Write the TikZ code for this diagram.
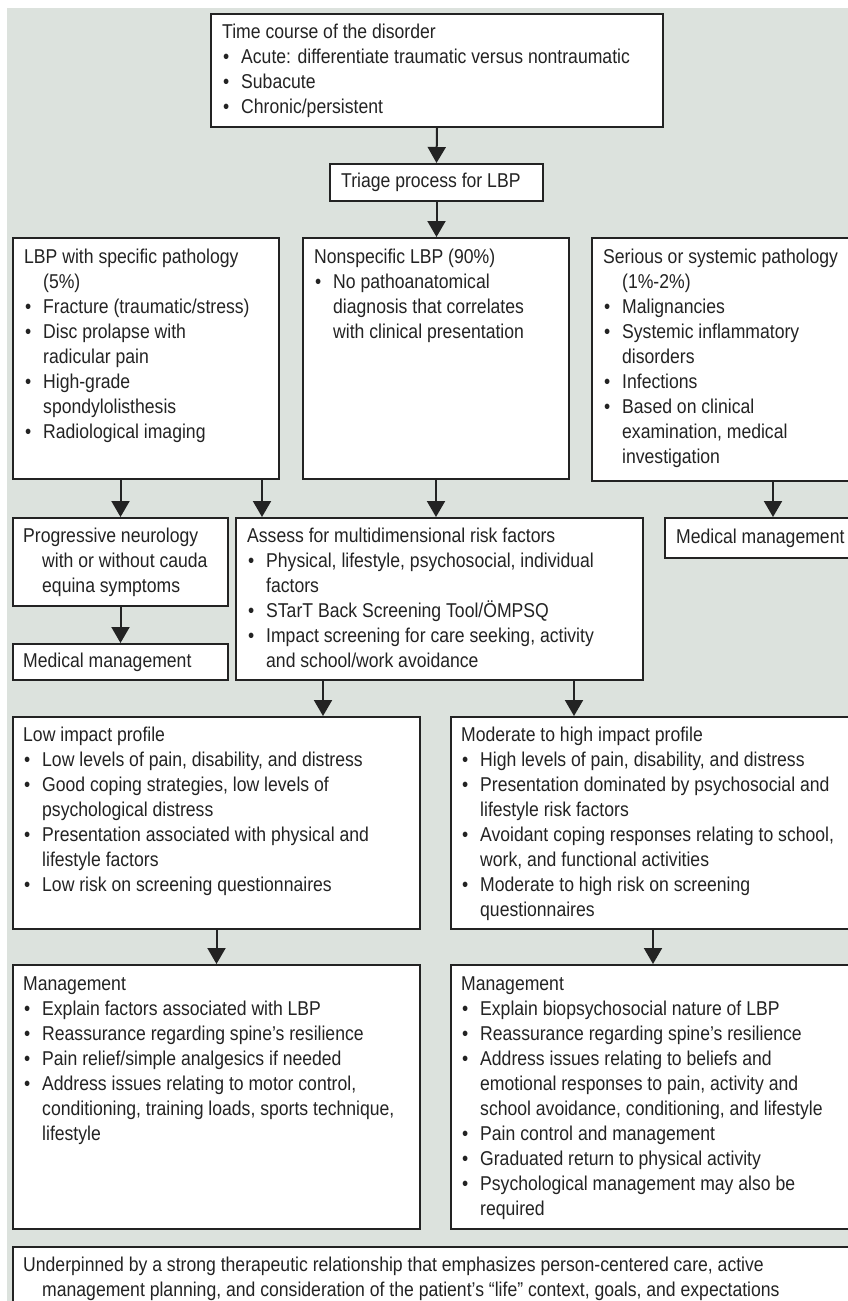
\documentclass[tikz,border=0pt]{standalone}
\usepackage{fontspec}
\setmainfont{Liberation Sans}[FakeStretch=0.88]
\usetikzlibrary{arrows.meta}
\definecolor{bgc}{RGB}{220,226,221}
\definecolor{lnc}{RGB}{35,35,35}
\definecolor{txc}{RGB}{35,35,35}
\newcommand{\bu}{\makebox[19pt][l]{\hspace{1pt}•}}
\newcommand{\hi}{\hspace*{19pt}}
\newcommand{\st}{\rule{0pt}{18pt}}
\begin{document}
\begin{tikzpicture}[x=1pt, y=-1pt,
  box/.style={draw=lnc, line width=2pt, fill=white, inner sep=0pt, anchor=north west},
  txt/.style={inner sep=0pt, anchor=north west, align=left, text=txc, font=\fontsize{20}{25}\selectfont},
  arr/.style={draw=lnc, line width=2pt, -{Triangle[width=18pt,length=16pt]}}]
\useasboundingbox (0,0) rectangle (848,1301);
\clip (0,0) rectangle (848,1301);
\fill[white] (0,0) rectangle (848,1301);
\fill[bgc] (7,8) rectangle (870,1320);

% boxes
\node[box, minimum width=452pt, minimum height=113pt] (top) at (210,13) {};
\node[box, minimum width=213pt, minimum height=37pt] (triage) at (329,163) {};
\node[box, minimum width=266pt, minimum height=241pt] (spec) at (12,237) {};
\node[box, minimum width=266pt, minimum height=241pt] (nonspec) at (302,237) {};
\node[box, minimum width=266pt, minimum height=243pt] (serious) at (591,237) {};
\node[box, minimum width=215pt, minimum height=88pt] (prog) at (12,517) {};
\node[box, minimum width=215pt, minimum height=36pt] (med1) at (12,643) {};
\node[box, minimum width=407pt, minimum height=162pt] (assess) at (235,517) {};
\node[box, minimum width=218pt, minimum height=40pt] (med2) at (664,517) {};
\node[box, minimum width=407pt, minimum height=212pt] (low) at (12,716) {};
\node[box, minimum width=407pt, minimum height=212pt] (mod) at (450,716) {};
\node[box, minimum width=407pt, minimum height=264pt] (mgmt1) at (12,964) {};
\node[box, minimum width=407pt, minimum height=264pt] (mgmt2) at (450,964) {};
\node[box, minimum width=845pt, minimum height=80pt] (under) at (12,1246) {};

% texts
\node[txt] (t-top) at ([shift={(12pt,-7pt)}]top.north west) {\st Time course of the disorder\\
\bu Acute: differentiate traumatic versus nontraumatic\\
\bu Subacute\\
\bu Chronic/persistent};
\node[txt] (t-triage) at ([shift={(12pt,-6pt)}]triage.north west) {\st Triage process for LBP};
\node[txt] (t-spec) at ([shift={(12pt,-8pt)}]spec.north west) {\st LBP with specific pathology\\
\hi(5\%)\\
\bu Fracture (traumatic/stress)\\
\bu Disc prolapse with\\
\hi radicular pain\\
\bu High-grade\\
\hi spondylolisthesis\\
\bu Radiological imaging};
\node[txt] (t-nonspec) at ([shift={(12pt,-8pt)}]nonspec.north west) {\st Nonspecific LBP (90\%)\\
\bu No pathoanatomical\\
\hi diagnosis that correlates\\
\hi with clinical presentation};
\node[txt] (t-serious) at ([shift={(12pt,-8pt)}]serious.north west) {\st Serious or systemic pathology\\
\hi(1\%-2\%)\\
\bu Malignancies\\
\bu Systemic inflammatory\\
\hi disorders\\
\bu Infections\\
\bu Based on clinical\\
\hi examination, medical\\
\hi investigation};
\node[txt] (t-prog) at ([shift={(11pt,-7pt)}]prog.north west) {\st Progressive neurology\\
\hi with or without cauda\\
\hi equina symptoms};
\node[txt] (t-med1) at ([shift={(11pt,-6pt)}]med1.north west) {\st Medical management};
\node[txt] (t-assess) at ([shift={(12pt,-7pt)}]assess.north west) {\st Assess for multidimensional risk factors\\
\bu Physical, lifestyle, psychosocial, individual\\
\hi factors\\
\bu STarT Back Screening Tool/ÖMPSQ\\
\bu Impact screening for care seeking, activity\\
\hi and school/work avoidance};
\node[txt] (t-med2) at ([shift={(12pt,-8pt)}]med2.north west) {\st Medical management};
\node[txt] (t-low) at ([shift={(11pt,-7pt)}]low.north west) {\st Low impact profile\\
\bu Low levels of pain, disability, and distress\\
\bu Good coping strategies, low levels of\\
\hi psychological distress\\
\bu Presentation associated with physical and\\
\hi lifestyle factors\\
\bu Low risk on screening questionnaires};
\node[txt] (t-mod) at ([shift={(11pt,-7pt)}]mod.north west) {\st Moderate to high impact profile\\
\bu High levels of pain, disability, and distress\\
\bu Presentation dominated by psychosocial and\\
\hi lifestyle risk factors\\
\bu Avoidant coping responses relating to school,\\
\hi work, and functional activities\\
\bu Moderate to high risk on screening\\
\hi questionnaires};
\node[txt] (t-mgmt1) at ([shift={(11pt,-8pt)}]mgmt1.north west) {\st Management\\
\bu Explain factors associated with LBP\\
\bu Reassurance regarding spine’s resilience\\
\bu Pain relief/simple analgesics if needed\\
\bu Address issues relating to motor control,\\
\hi conditioning, training loads, sports technique,\\
\hi lifestyle};
\node[txt] (t-mgmt2) at ([shift={(11pt,-8pt)}]mgmt2.north west) {\st Management\\
\bu Explain biopsychosocial nature of LBP\\
\bu Reassurance regarding spine’s resilience\\
\bu Address issues relating to beliefs and\\
\hi emotional responses to pain, activity and\\
\hi school avoidance, conditioning, and lifestyle\\
\bu Pain control and management\\
\bu Graduated return to physical activity\\
\bu Psychological management may also be\\
\hi required};
\node[txt] (t-under) at ([shift={(11pt,-7pt)}]under.north west) {\st Underpinned by a strong therapeutic relationship that emphasizes person-centered care, active\\
\hi management planning, and consideration of the patient’s “life” context, goals, and expectations};

% connectors
\coordinate (xa) at (262,0);
\coordinate (xb) at (773,0);
\coordinate (xc) at (323,0);
\coordinate (xd) at (574,0);
\coordinate (xe) at (653,0);
\draw[arr] (top.south) -- (triage.north);
\draw[arr] (triage.south) -- (triage.south |- nonspec.north);
\draw[arr] (spec.south -| prog.north) -- (prog.north);
\draw[arr] (spec.south -| xa) -- (assess.north -| xa);
\draw[arr] (nonspec.south) -- (nonspec.south |- assess.north);
\draw[arr] (serious.south -| xb) -- (med2.north -| xb);
\draw[arr] (prog.south) -- (med1.north);
\draw[arr] (assess.south -| xc) -- (low.north -| xc);
\draw[arr] (assess.south -| xd) -- (mod.north -| xd);
\draw[arr] (low.south) -- (mgmt1.north);
\draw[arr] (mod.south -| xe) -- (mgmt2.north -| xe);
\end{tikzpicture}
\end{document}
